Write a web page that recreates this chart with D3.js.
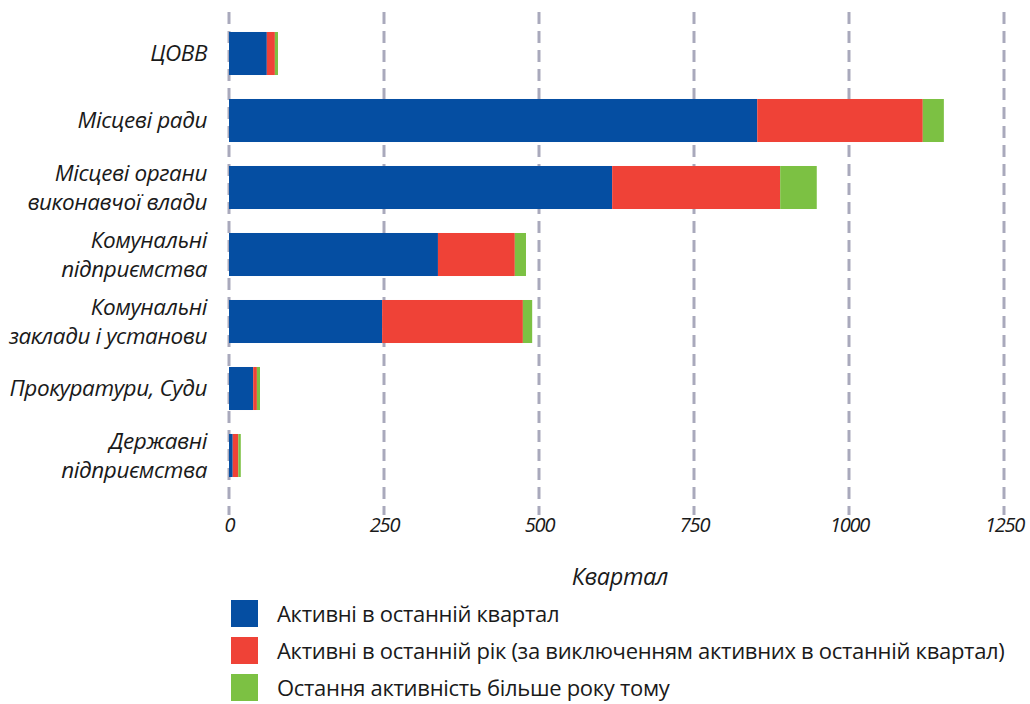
<!DOCTYPE html>
<html>
<head>
<meta charset="utf-8">
<script src="https://cdn.jsdelivr.net/npm/d3@7"></script>
<style>
  html, body { margin: 0; padding: 0; background: #fff; }
  svg { display: block; }
  text { font-family: "Open Sans", "Noto Sans", sans-serif; fill: #1a1a1a; }
</style>
</head>
<body>
<svg id="chart" width="1030" height="704"></svg>
<script>
// Categories (each entry is a list of label lines)
const categories = [
  ["ЦОВВ"],
  ["Місцеві ради"],
  ["Місцеві органи", "виконавчої влади"],
  ["Комунальні", "підприємства"],
  ["Комунальні", "заклади і установи"],
  ["Прокуратури, Суди"],
  ["Державні", "підприємства"]
];

// Series values, in category order
const activeQuarter = [61, 852, 618, 337, 247, 39, 6];
const activeYear    = [13, 267, 271, 124, 227, 6, 9];
const olderThanYear = [5, 34, 59, 18, 15, 5, 4];

const seriesNames = [
  "Активні в останній квартал",
  "Активні в останній рік (за виключенням активних в останній квартал)",
  "Остання активність більше року тому"
];
const seriesColors = ["#054ea2", "#ef4237", "#7cc143"];

const xTicks = [0, 250, 500, 750, 1000, 1250];
const axisTitle = "Квартал";

const svg = d3.select("#chart");

const left = 229, right = 1004;
const x = d3.scaleLinear().domain([0, 1250]).range([left, right]);
const y = d3.scaleBand()
  .domain(d3.range(categories.length))
  .range([20, 489])
  .paddingInner(0.358)
  .paddingOuter(0.179);

// Stacked data
const rows = categories.map((c, i) => ({
  i, s0: activeQuarter[i], s1: activeYear[i], s2: olderThanYear[i]
}));
const stack = d3.stack().keys(["s0", "s1", "s2"]);
const layers = stack(rows);

// Dashed vertical grid lines
svg.append("g").selectAll("line")
  .data(xTicks)
  .join("line")
  .attr("x1", d => x(d)).attr("x2", d => x(d))
  .attr("y1", 12).attr("y2", 515)
  .attr("stroke", "#a9a9bc")
  .attr("stroke-width", 3)
  .attr("stroke-dasharray", "12 7");

// Bars
svg.append("g").selectAll("g")
  .data(layers)
  .join("g")
  .attr("fill", (d, k) => seriesColors[k])
  .selectAll("rect")
  .data(d => d)
  .join("rect")
  .attr("x", d => x(d[0]))
  .attr("width", d => x(d[1]) - x(d[0]))
  .attr("y", d => y(d.data.i))
  .attr("height", y.bandwidth());

// Category labels
const catG = svg.append("g");
categories.forEach((lines, i) => {
  const cy = y(i) + y.bandwidth() / 2;
  const lh = 29;
  const t = catG.append("text")
    .attr("text-anchor", "end")
    .attr("font-style", "italic")
    .attr("font-size", 22.5)
    .attr("letter-spacing", -0.4);
  lines.forEach((ln, j) => {
    t.append("tspan")
      .attr("x", 207)
      .attr("y", cy + (j - (lines.length - 1) / 2) * lh)
      .attr("dy", "0.35em")
      .text(ln);
  });
});

// X axis tick labels
const axis = d3.axisBottom(x).tickValues(xTicks).tickSize(0).tickPadding(0)
  .tickFormat(d3.format("d"));
const axG = svg.append("g").attr("transform", "translate(0,518)").call(axis);
axG.select(".domain").remove();
axG.selectAll("text")
  .attr("font-family", "\"Open Sans\", \"Noto Sans\", sans-serif")
  .attr("font-style", "italic")
  .attr("font-size", 20)
  .attr("letter-spacing", -1.2)
  .attr("fill", "#1a1a1a");

// Axis title
svg.append("text")
  .attr("x", 620).attr("y", 585)
  .attr("text-anchor", "middle")
  .attr("font-style", "italic")
  .attr("font-size", 23.5)
  .attr("letter-spacing", -0.4)
  .text(axisTitle);

// Legend
const leg = svg.append("g").selectAll("g")
  .data(seriesNames)
  .join("g")
  .attr("transform", (d, k) => `translate(231,${600 + k * 37})`);
leg.append("rect")
  .attr("width", 27).attr("height", 27)
  .attr("fill", (d, k) => seriesColors[k]);
leg.append("text")
  .attr("x", 46).attr("y", 14)
  .attr("dy", "0.35em")
  .attr("font-size", 22)
  .attr("letter-spacing", -0.3)
  .text(d => d);
</script>
</body>
</html>
